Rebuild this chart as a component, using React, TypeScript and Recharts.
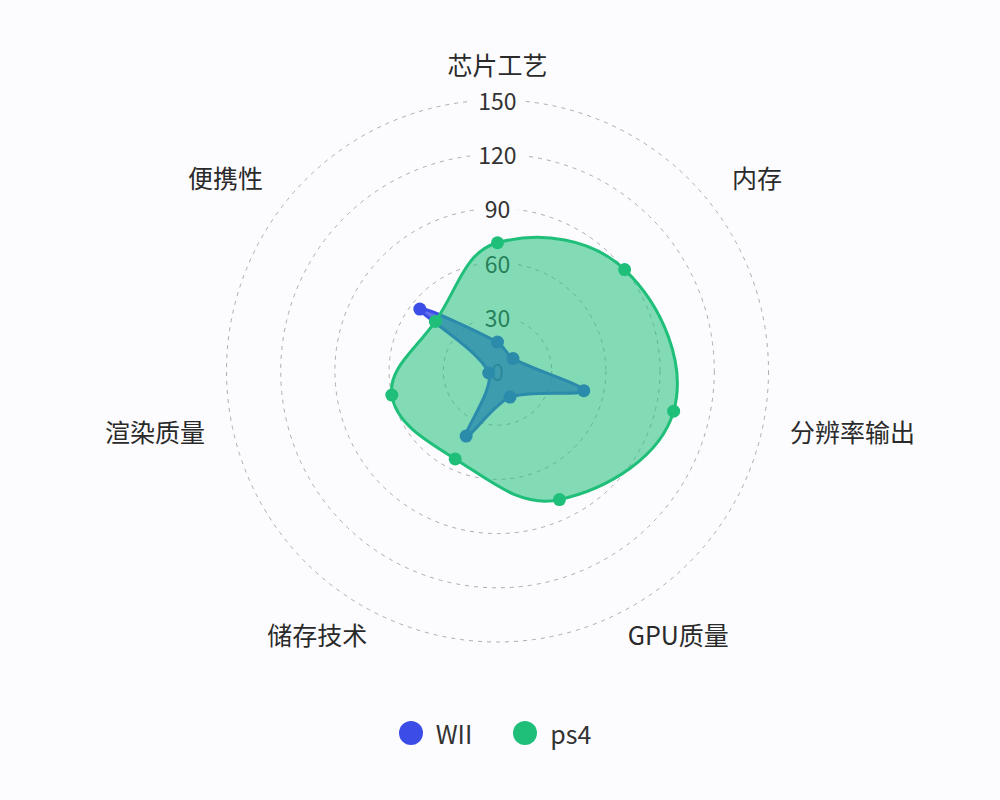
import React from 'react';
import { RadarChart, Radar, PolarGrid, PolarAngleAxis, PolarRadiusAxis, Legend } from 'recharts';

const indicators = ['芯片工艺', '内存', '分辨率输出', 'GPU质量', '储存技术', '渲染质量', '便携性'];
const wiiValues = [16, 11, 49, 16, 40, 5, 55];
const ps4Values = [71, 90, 100, 79, 54, 60, 44];
const radiusTicks = [0, 30, 60, 90, 120, 150];

const seriesNames = ['WII', 'ps4'];
const seriesColors: Record<string, string> = { WII: '#3b4de6', ps4: '#1fbf7a' };

const data = indicators.map((name, i) => ({ name, WII: wiiValues[i], ps4: ps4Values[i] }));

const W = 1000;
const H = 800;
const CX = 497.5;
const CY = 371;
const R = 271;
const LABEL_R = 300;
const BG = '#fcfcfe';
const FONT = '"Noto Sans CJK SC", "Noto Sans", sans-serif';

function smoothClosedPath(pts: { x: number; y: number }[], smooth: number) {
  const n = pts.length;
  if (!n) return '';
  const cin: { x: number; y: number }[] = [];
  const cout: { x: number; y: number }[] = [];
  for (let i = 0; i < n; i++) {
    const p = pts[i];
    const prev = pts[(i - 1 + n) % n];
    const next = pts[(i + 1) % n];
    const vx = (next.x - prev.x) * smooth;
    const vy = (next.y - prev.y) * smooth;
    let d0 = Math.hypot(p.x - prev.x, p.y - prev.y);
    let d1 = Math.hypot(p.x - next.x, p.y - next.y);
    const s = d0 + d1;
    if (s > 0) {
      d0 /= s;
      d1 /= s;
    }
    cin.push({ x: p.x - vx * d0, y: p.y - vy * d0 });
    cout.push({ x: p.x + vx * d1, y: p.y + vy * d1 });
  }
  let d = `M${pts[0].x},${pts[0].y}`;
  for (let i = 0; i < n; i++) {
    const j = (i + 1) % n;
    d += `C${cout[i].x},${cout[i].y} ${cin[j].x},${cin[j].y} ${pts[j].x},${pts[j].y}`;
  }
  return d + 'Z';
}

const makeShape = (color: string, fillOpacity: number, smooth: number) => (props: any) => {
  const pts = props.points || [];
  return (
    <g>
      <path
        d={smoothClosedPath(pts, smooth)}
        fill={color}
        fillOpacity={fillOpacity}
        stroke={color}
        strokeWidth={3}
        strokeLinejoin="round"
      />
      {pts.map((p: any, i: number) => (
        <circle key={i} cx={p.x} cy={p.y} r={6.5} fill={color} />
      ))}
    </g>
  );
};

const HiddenShape = () => <g />;

const AngleTick = (props: any) => {
  const { payload } = props;
  let x = props.x;
  let y = props.y;
  if (payload && typeof payload.coordinate === 'number') {
    const a = (-payload.coordinate * Math.PI) / 180;
    x = CX + LABEL_R * Math.cos(a);
    y = CY + LABEL_R * Math.sin(a);
  }
  const dx = x - CX;
  const anchor = Math.abs(dx) < 2 ? 'middle' : dx > 0 ? 'start' : 'end';
  return (
    <text
      x={x}
      y={y - 7}
      textAnchor={anchor}
      dominantBaseline="central"
      fill="#2a2a2a"
      fontSize={25}
      fontFamily={FONT}
    >
      {payload.value}
    </text>
  );
};

const RadiusTick = (props: any) => {
  const { x, y, payload } = props;
  const label = String(payload.value);
  const w = label.length * 13.5 + 14;
  return (
    <g>
      <rect x={x - w / 2} y={y - 12} width={w} height={24} fill={BG} />
      <text
        x={x}
        y={y}
        textAnchor="middle"
        dominantBaseline="central"
        fill="#333"
        fontSize={23}
        fontFamily={FONT}
      >
        {label}
      </text>
    </g>
  );
};

const renderLegend = (props: any) => {
  const payload = props.payload || [];
  return (
    <div
      style={{
        display: 'flex',
        justifyContent: 'center',
        alignItems: 'center',
        fontFamily: FONT,
        fontSize: 25,
        color: '#333',
        height: 30,
      }}
    >
      {payload.map((entry: any) => {
        const name = String(entry.value);
        return (
          <div key={name} style={{ display: 'flex', alignItems: 'center', margin: '0 20.5px' }}>
            <span
              style={{
                display: 'inline-block',
                width: 24,
                height: 24,
                borderRadius: 12,
                background: seriesColors[name],
                marginRight: 13,
              }}
            />
            <span style={{ lineHeight: '30px' }}>{name}</span>
          </div>
        );
      })}
    </div>
  );
};

const chartCommon = {
  width: W,
  height: H,
  data,
  cx: CX,
  cy: CY,
  outerRadius: R,
  margin: { top: 0, right: 0, bottom: 0, left: 0 },
};

export default function App() {
  return (
    <div style={{ position: 'absolute', left: 0, top: 0, width: W, height: H, background: BG }}>
      {/* background layer: grid and axis labels */}
      <div style={{ position: 'absolute', left: 0, top: 0 }}>
        <RadarChart {...chartCommon}>
          <PolarGrid gridType="circle" radialLines={false} stroke="#adadad" strokeDasharray="4 5" />
          <PolarAngleAxis dataKey="name" tick={<AngleTick />} tickLine={false} axisLine={false} tickSize={29} />
          <PolarRadiusAxis
            angle={90}
            domain={[0, 150]}
            ticks={radiusTicks as any}
            tickCount={6}
            axisLine={false}
            tick={<RadiusTick />}
          />
          <Radar
            dataKey="ps4"
            stroke="none"
            fill="none"
            shape={HiddenShape}
            dot={false}
            legendType="none"
            isAnimationActive={false}
          />
        </RadarChart>
      </div>
      {/* foreground layer: series and legend */}
      <div style={{ position: 'absolute', left: 0, top: 0 }}>
        <RadarChart {...chartCommon}>
          <PolarAngleAxis dataKey="name" tick={false} tickLine={false} axisLine={false} />
          <PolarRadiusAxis angle={90} domain={[0, 150]} tick={false} axisLine={false} />
          <Radar
            name={seriesNames[0]}
            dataKey="WII"
            stroke={seriesColors.WII}
            fill={seriesColors.WII}
            shape={makeShape(seriesColors.WII, 0.8, 0.3)}
            dot={false}
            isAnimationActive={false}
          />
          <Radar
            name={seriesNames[1]}
            dataKey="ps4"
            stroke={seriesColors.ps4}
            fill={seriesColors.ps4}
            shape={makeShape(seriesColors.ps4, 0.55, 0.4)}
            dot={false}
            isAnimationActive={false}
          />
          <Legend
            content={renderLegend}
            wrapperStyle={{ position: 'absolute', left: -5, top: 718, width: W, height: 30 }}
          />
        </RadarChart>
      </div>
    </div>
  );
}
